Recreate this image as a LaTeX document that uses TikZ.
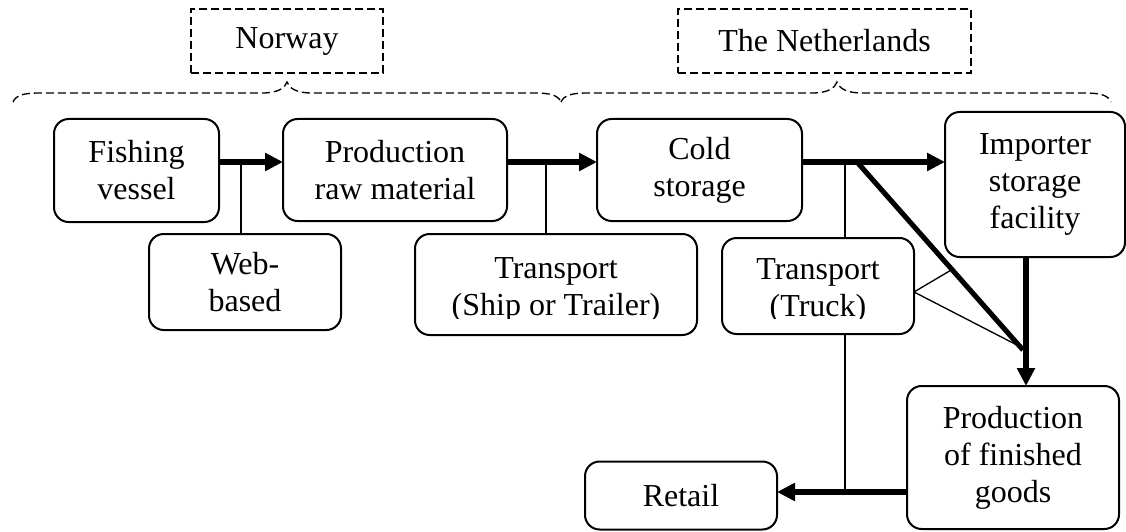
\documentclass[tikz,border=0pt]{standalone}
\usepackage{fontspec}
\setmainfont{Liberation Serif}
\usetikzlibrary{arrows.meta,calc}
\begin{document}
\begin{tikzpicture}[x=0.75pt,y=-0.75pt,
  every node/.style={font=\fontsize{24pt}{27.75pt}\selectfont, align=center, inner sep=0pt, outer sep=0pt},
  box/.style={draw, line width=1.5pt, rounded corners=11pt},
  region/.style={draw, line width=1pt, dash pattern=on 6pt off 3pt},
  flow/.style={line width=3.8pt, -{Triangle[length=13.5pt,width=13pt]}},
  flowline/.style={line width=3.8pt},
  link/.style={line width=1pt},
  brace/.style={line width=1pt, dash pattern=on 6pt off 3pt}]
\useasboundingbox (0,0) rectangle (1126,531);

% region labels
\node[region, minimum width=144pt, minimum height=48pt] (nor) at (287,41) {Norway};
\node[region, minimum width=219.75pt, minimum height=48pt] (nl) at (824.5,41) {The Netherlands};

% braces
\draw[brace] (13,102) .. controls (16,95) and (24,93) .. (40,93) -- (262,93)
  .. controls (278,93) and (285,88) .. (287,82)
  .. controls (289,88) and (296,93) .. (312,93) -- (534,93)
  .. controls (550,93) and (558,95) .. (561,102);
\draw[brace] (561,102) .. controls (564,95) and (572,93) .. (588,93) -- (812,93)
  .. controls (828,93) and (835,88) .. (837,82)
  .. controls (839,88) and (846,93) .. (862,93) -- (1084,93)
  .. controls (1100,93) and (1108,95) .. (1111,102);

% main boxes
\node[box, minimum width=123.75pt, minimum height=77.25pt] (fish) at (136.5,170.5) {Fishing\\vessel};
\node[box, minimum width=168pt, minimum height=76.5pt] (prod) at (395,170) {Production\\raw material};
\node[box, minimum width=153.75pt, minimum height=76.5pt] (cold) at (699.5,170) {Cold\\storage};
\node[box, minimum width=135pt, minimum height=108.75pt] (imp) at (1035,184.5) {Importer\\storage\\facility};
\node[box, minimum width=144pt, minimum height=72pt] (web) at (245,282) {Web-\\based};
\node[box, minimum width=211.5pt, minimum height=75.75pt] (ship) at (556,284.5) {};
\node[box, minimum width=144pt, minimum height=72pt] (truck) at (818,286) {};
\node[box, minimum width=144pt, minimum height=51pt] (retail) at (681,495.5) {Retail};
\node[box, minimum width=159pt, minimum height=107.25pt] (fin) at (1013,457.5) {Production\\of finished\\goods};

% clipped transport labels
\begin{scope}
\clip (0,0) rectangle (1126,318);
\node (shipT) at (556,290) {Transport\\(Ship or Trailer)};
\node (truckT) at (818,291) {Transport\\(Truck)};
\end{scope}

% junction coordinates
\coordinate (j1) at (241,162);
\coordinate (j2) at (546,162);
\coordinate (j3) at (845,162);
\coordinate (j4) at (857,162);
\coordinate (d1) at (1023,350);
\coordinate (v) at (1026,0);
\coordinate (j5) at (845,492);

% flows
\draw[flow] (fish.east |- j1) -- (prod.west |- j1);
\draw[flow] (prod.east |- j2) -- (cold.west |- j2);
\draw[flow] (cold.east |- j3) -- (imp.west |- j3);
\draw[flowline] (j4) -- (d1);
\draw[flow] (v |- imp.south) -- (v |- fin.north);
\draw[flow] (fin.west |- j5) -- (retail.east |- j5);

% links
\draw[link] (j1) -- (j1 |- web.north);
\draw[link] (j2) -- (j2 |- ship.north);
\draw[link] (j3) -- (j3 |- truck.north);
\draw[link] (j5) -- (j5 |- truck.south);
\draw[link] ([yshift=-4.5pt]truck.east) -- ($(j4)!0.572!(d1)$);
\draw[link] ([yshift=-4.5pt]truck.east) -- ($(j4)!0.982!(d1)$);
\end{tikzpicture}
\end{document}
